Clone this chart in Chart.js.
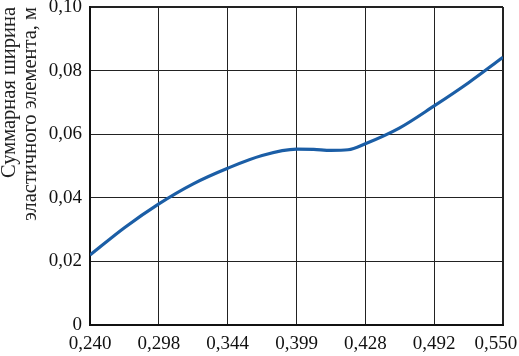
<!DOCTYPE html>
<html>
<head>
<meta charset="utf-8">
<script src="https://cdn.jsdelivr.net/npm/chart.js@4"></script>
<style>
  html, body { margin: 0; padding: 0; background: #fff; }
  #wrap { width: 519px; height: 356px; }
</style>
</head>
<body>
<div id="wrap"><canvas id="chart"></canvas></div>
<script>
// x positions are grid indices (the axis is not proportional to the values)
const xLabels = ['0,240', '0,298', '0,344', '0,399', '0,428', '0,492', '0,550'];
const yLabels = ['0', '0,02', '0,04', '0,06', '0,08', '0,10'];
const xPos = [0, 0.5, 1, 1.5, 2, 2.5, 3, 3.25, 3.5, 3.75, 4, 4.5, 5, 5.5, 6];
const widthValues = [0.022, 0.0306, 0.0381, 0.0444, 0.0493, 0.0533, 0.0553, 0.0552, 0.0549, 0.0551, 0.0570, 0.0620, 0.0689, 0.0762, 0.0842];

const serif = 'Liberation Serif';
const points = xPos.map((x, i) => ({ x: x, y: widthValues[i] }));

const ctx = document.getElementById('chart').getContext('2d');
const chart = new Chart(ctx, {
    type: 'line',
    data: {
        datasets: [{
            data: points,
            borderColor: '#1b5ea6',
            borderWidth: 3.2,
            pointRadius: 0,
            cubicInterpolationMode: 'monotone',
            fill: false
        }]
    },
    options: {
        responsive: true,
        maintainAspectRatio: false,
        animation: false,
        layout: { padding: 0 },
        plugins: {
            legend: { display: false },
            tooltip: { enabled: false }
        },
        scales: {
            x: {
                type: 'linear',
                min: 0,
                max: 6,
                ticks: {
                    stepSize: 1,
                    color: '#111',
                    padding: 8,
                    maxRotation: 0,
                    font: { family: serif, size: 19 },
                    callback: (v) => v === 6 ? xLabels[v] + '   ' : xLabels[v]
                },
                grid: {
                    color: '#222',
                    lineWidth: (c) => c.index === 6 ? 2 : 1,
                    drawTicks: false
                },
                border: { color: '#111', width: 2 },
                afterFit: (s) => {
                    s.height = 31;
                    s.paddingRight = 16;
                    s.paddingLeft = 0;
                }
            },
            y: {
                min: 0,
                max: 0.1,
                ticks: {
                    stepSize: 0.02,
                    color: '#111',
                    padding: 8,
                    font: { family: serif, size: 19 },
                    callback: (v, i) => yLabels[i]
                },
                grid: {
                    color: '#222',
                    lineWidth: (c) => c.index === 5 ? 2 : 1,
                    drawTicks: false
                },
                border: { color: '#111', width: 2 },
                title: {
                    display: true,
                    text: ['Суммарная ширина', 'эластичного элемента, м'],
                    align: 'end',
                    color: '#222',
                    padding: 0,
                    font: { family: serif, size: 20.5, lineHeight: 0.98 }
                },
                afterFit: (s) => {
                    s.width = 90;
                    s.paddingTop = 7;
                    s.paddingBottom = 0;
                }
            }
        }
    }
});
</script>
</body>
</html>
